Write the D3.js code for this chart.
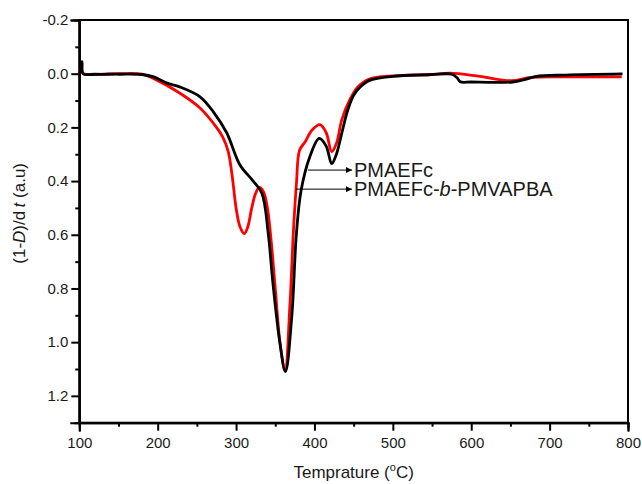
<!DOCTYPE html>
<html>
<head>
<meta charset="utf-8">
<script src="https://cdn.jsdelivr.net/npm/d3@7"></script>
<style>
  body { margin: 0; background: #fff; }
  svg { display: block; font-family: "Liberation Sans", Arial, sans-serif; }
  .axis path, .axis line { stroke: #000; stroke-width: 2; }
  .axis text { font-size: 15px; fill: #1a1a1a; }
</style>
</head>
<body>
<svg id="chart" width="642" height="484"></svg>
<script>
// PMAEFc (black)
var tempA = [100, 101.5, 102.5, 103.5, 105, 120, 150, 180, 195, 212, 228, 254, 271, 288, 305, 321, 333, 341, 347, 356, 363, 371, 377, 383, 394, 406, 415, 422, 428, 435, 442, 450, 460, 470, 500, 546, 575, 582, 586, 600, 653, 668, 683, 720, 793];
var valA = [0, -0.01, -0.04, -0.045, 0.0, 0.002, 0.002, 0.003, 0.012, 0.035, 0.049, 0.086, 0.142, 0.22, 0.34, 0.397, 0.446, 0.595, 0.78, 1.005, 1.11, 0.907, 0.595, 0.434, 0.31, 0.241, 0.27, 0.335, 0.3, 0.22, 0.14, 0.08, 0.045, 0.025, 0.01, 0.004, 0.002, 0.015, 0.03, 0.031, 0.031, 0.022, 0.01, 0.005, 0.001];

// PMAEFc-b-PMVAPBA (red)
var tempB = [100, 102, 103, 105, 150, 180, 199, 228, 254, 275, 283, 290, 295, 300, 305, 310.5, 315, 320, 325, 329.6, 335, 340, 345, 350, 356, 362.4, 369, 373, 377, 381, 388, 397, 407, 415, 422, 428, 435, 445, 455, 470, 500, 550, 573, 611, 651, 676, 720, 792];
var valB = [0, -0.015, -0.01, 0.0, 0.0, 0.002, 0.024, 0.072, 0.128, 0.2, 0.236, 0.29, 0.38, 0.5, 0.57, 0.596, 0.57, 0.5, 0.445, 0.424, 0.44, 0.5, 0.63, 0.8, 1.0, 1.106, 0.845, 0.595, 0.41, 0.285, 0.254, 0.21, 0.19, 0.22, 0.29, 0.26, 0.17, 0.098, 0.05, 0.02, 0.008, 0.003, -0.002, 0.01, 0.026, 0.014, 0.012, 0.012];

var xTicks = [100, 200, 300, 400, 500, 600, 700, 800];
var xMinor = [150, 250, 350, 450, 550, 650, 750];
var yTicks = [-0.2, 0.0, 0.2, 0.4, 0.6, 0.8, 1.0, 1.2];
var yMinor = [-0.1, 0.1, 0.3, 0.5, 0.7, 0.9, 1.1];

var legendNames = ["PMAEFc", "PMAEFc-b-PMVAPBA"];
var legendFromT = [391.6, 376];
var legendV = [0.359, 0.43];

var svg = d3.select("#chart");
var mLeft = 79.3, mRight = 628, mTop = 20, mBottom = 422.7;

var x = d3.scaleLinear().domain([100, 800]).range([mLeft, mRight]),
    y = d3.scaleLinear().domain([-0.2, 1.3]).range([mTop, mBottom]);

// frame
svg.append("rect")
  .attr("x", mLeft).attr("y", mTop)
  .attr("width", mRight - mLeft).attr("height", mBottom - mTop)
  .attr("fill", "none").attr("stroke", "#000").attr("stroke-width", 2);

svg.append("g").attr("class", "axis")
  .attr("transform", "translate(" + mLeft + ",0)")
  .call(d3.axisLeft(y).tickValues(yTicks).tickSize(8).tickPadding(3)
    .tickFormat(function(d) { return d.toFixed(1); }));

svg.append("g").attr("class", "axis")
  .attr("transform", "translate(" + mLeft + ",0)")
  .call(d3.axisLeft(y).tickValues(yMinor).tickSize(4).tickFormat(""));

svg.append("g").attr("class", "axis")
  .attr("transform", "translate(0," + mBottom + ")")
  .call(d3.axisBottom(x).tickValues(xTicks).tickSize(8).tickPadding(7)
    .tickFormat(d3.format("d")));

svg.append("g").attr("class", "axis")
  .attr("transform", "translate(0," + mBottom + ")")
  .call(d3.axisBottom(x).tickValues(xMinor).tickSize(4).tickFormat(""));

svg.selectAll(".axis .domain").attr("stroke-linecap", "square");

var line = d3.line()
  .curve(d3.curveCatmullRom.alpha(0.5))
  .x(function(d) { return x(d[0]); })
  .y(function(d) { return y(d[1]); });

var dataA = tempA.map(function(t, i) { return [t, valA[i]]; }),
    dataB = tempB.map(function(t, i) { return [t, valB[i]]; });

svg.append("path").datum(dataB)
  .attr("d", line).attr("fill", "none")
  .attr("stroke", "#ff0000").attr("stroke-width", 2.8);

svg.append("path").datum(dataA)
  .attr("d", line).attr("fill", "none")
  .attr("stroke", "#000").attr("stroke-width", 2.8);

// legend arrows
svg.append("defs").append("marker")
  .attr("id", "arrow")
  .attr("viewBox", "0 0 10 10")
  .attr("refX", 10).attr("refY", 5)
  .attr("markerWidth", 10).attr("markerHeight", 6)
  .attr("markerUnits", "userSpaceOnUse")
  .attr("orient", "auto")
  .append("path").attr("d", "M0,0L10,5L0,10z").attr("fill", "#000");

legendNames.forEach(function(name, i) {
  var yy = y(legendV[i]);
  svg.append("line")
    .attr("x1", x(legendFromT[i])).attr("y1", yy)
    .attr("x2", 352).attr("y2", yy)
    .attr("stroke", "#000").attr("stroke-width", 1)
    .attr("marker-end", "url(#arrow)");
  var t = svg.append("text")
    .attr("x", 354).attr("y", yy + 7)
    .attr("font-size", "20px").attr("fill", "#1a1a1a");
  if (name.indexOf("-b-") > 0) {
    t.append("tspan").text("PMAEFc-");
    t.append("tspan").attr("font-style", "italic").text("b");
    t.append("tspan").text("-PMVAPBA");
  } else {
    t.text(name);
  }
});

// axis titles
var xt = svg.append("text")
  .attr("x", (mLeft + mRight) / 2).attr("y", 478)
  .attr("text-anchor", "middle")
  .attr("font-size", "17px").attr("fill", "#1a1a1a");
xt.append("tspan").text("Temprature (");
xt.append("tspan").attr("font-size", "11px").attr("dy", -7).text("o");
xt.append("tspan").attr("dy", 7).text("C)");

var yt = svg.append("text")
  .attr("transform", "translate(25," + ((mTop + mBottom) / 2 - 8) + ") rotate(-90)")
  .attr("text-anchor", "middle")
  .attr("font-size", "17px").attr("fill", "#1a1a1a");
yt.append("tspan").text("(1-");
yt.append("tspan").attr("font-style", "italic").text("D");
yt.append("tspan").text(")/d\u2009");
yt.append("tspan").attr("font-style", "italic").text("t");
yt.append("tspan").text(" (a.u)");
</script>
</body>
</html>
